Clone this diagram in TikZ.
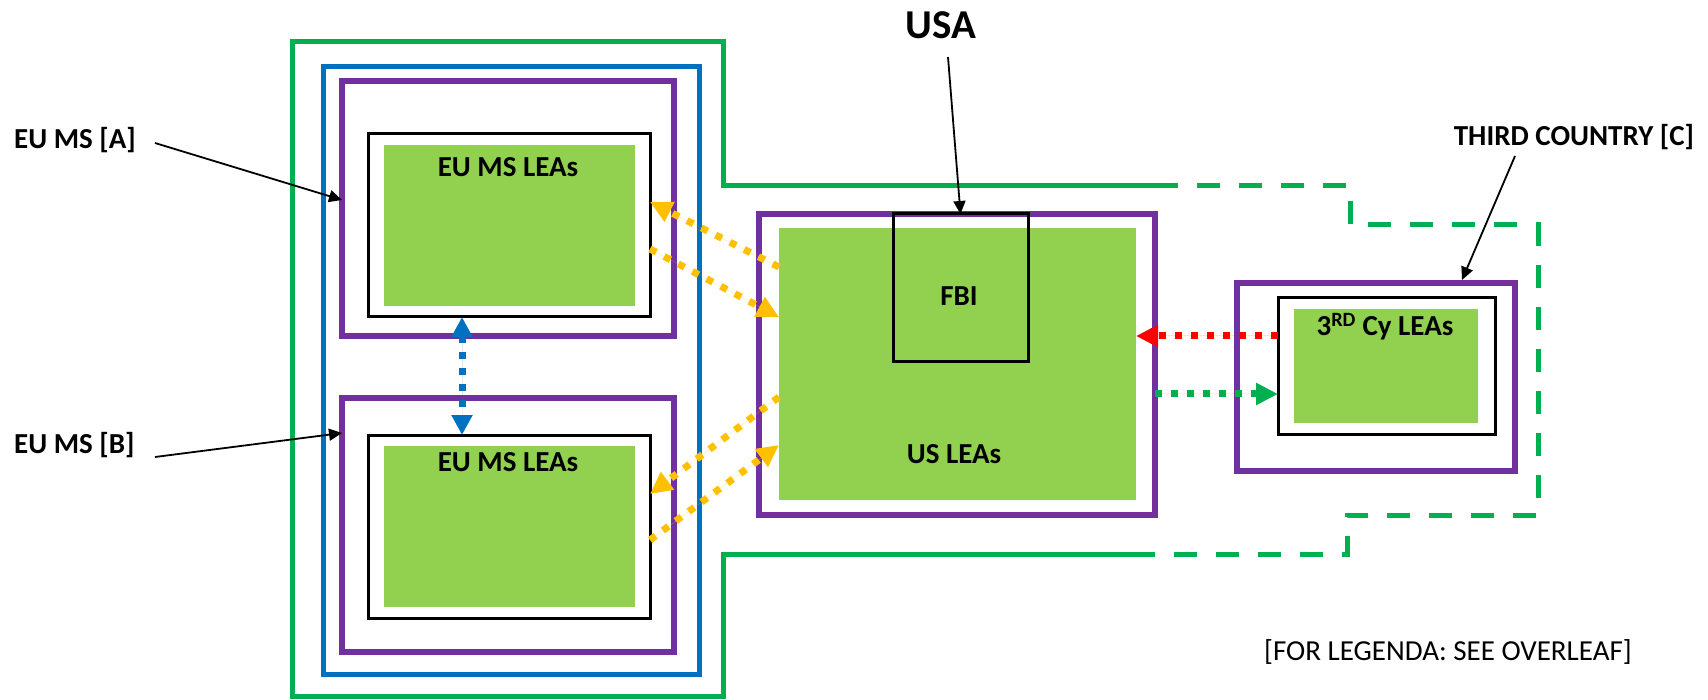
\documentclass[tikz,border=0pt]{standalone}
\usepackage{fontspec}
\setmainfont{Carlito}
\usetikzlibrary{arrows.meta}
\definecolor{cgreen}{HTML}{00B050}
\definecolor{cblue}{HTML}{0070C0}
\definecolor{cpurple}{HTML}{7030A0}
\definecolor{cfill}{HTML}{92D050}
\definecolor{corange}{HTML}{FFC000}
\definecolor{cred}{HTML}{FF0000}
\begin{document}
\begin{tikzpicture}[x=1pt,y=-1pt,
  box/.style={rectangle,inner sep=0pt,outer sep=0pt},
  purplebox/.style={box,draw=cpurple,line width=6pt},
  blackbox/.style={box,draw=black,line width=3pt},
  fillbox/.style={box,fill=cfill},
  lbl/.style={inner sep=0pt,font=\fontsize{29}{34}\selectfont\bfseries},
  pointer/.style={draw=black,line width=1.8pt,-{Triangle[length=13pt,width=12pt]}},
  dotarrow/.style={line width=7pt,dash pattern=on 7pt off 9pt,-{Triangle[length=22pt,width=21pt]}},
  greenline/.style={draw=cgreen,line width=5pt},
]
\useasboundingbox (0,0) rectangle (1708,700);
\fill[white] (0,0) rectangle (1708,700);
% green outline
\draw[greenline] (1155,186) -- (723,186) -- (723,42) -- (292,42) -- (292,696) -- (723,696) -- (723,554) -- (1155,554);
\draw[greenline,dash pattern=on 23pt off 19pt] (1155,186) -- (1350,186) -- (1350,225) -- (1538,225) -- (1538,515) -- (1347,515) -- (1347,554) -- (1155,554);
% blue box
\node[box,draw=cblue,line width=5pt,minimum width=376pt,minimum height=607pt] (blue) at (511,370.5) {};
% EU MS A
\node[purplebox,minimum width=332pt,minimum height=255pt] (pA) at (508,208.5) {};
\node[blackbox,minimum width=282pt,minimum height=183pt] (bA) at (509,225.5) {};
\node[fillbox,minimum width=251pt,minimum height=161pt] (fA) at (509.5,225.5) {};
\node[lbl] (tA) at (508,167) {EU MS LEAs};
% EU MS B
\node[purplebox,minimum width=332pt,minimum height=254pt] (pB) at (508,525) {};
\node[blackbox,minimum width=282pt,minimum height=183pt] (bB) at (509,526.5) {};
\node[fillbox,minimum width=251pt,minimum height=161pt] (fB) at (509.5,526.5) {};
\node[lbl] (tB) at (508,462) {EU MS LEAs};
% USA
\node[purplebox,minimum width=396pt,minimum height=301pt] (pUS) at (957,364.5) {};
\node[fillbox,minimum width=357pt,minimum height=272pt] (fUS) at (957.5,364) {};
\node[blackbox,minimum width=135pt,minimum height=148pt] (fbi) at (960.5,288) {};
\node[lbl] (tfbi) at (959,296) {FBI};
\node[lbl] (tus) at (954,454) {US LEAs};
% third country
\node[purplebox,minimum width=278pt,minimum height=188pt] (p3) at (1376,377) {};
\node[blackbox,minimum width=217pt,minimum height=136pt] (b3) at (1386.5,366) {};
\node[fillbox,minimum width=184pt,minimum height=114pt] (f3) at (1386,366) {};
\node[lbl] (t3) at (1385,327) {3\textsuperscript{RD} Cy LEAs};
% labels
\node[inner sep=0pt,font=\fontsize{41}{48}\selectfont\bfseries] (usa) at (941,25) {USA};
\node[lbl,anchor=west] (labA) at (14,140) {EU MS [A]};
\node[lbl,anchor=west] (labB) at (14,445) {EU MS [B]};
\node[lbl] (labC) at (1574,137) {THIRD COUNTRY [C]};
\node[inner sep=0pt,font=\fontsize{29}{34}\selectfont] (legend) at (1448,652) {[FOR LEGENDA: SEE OVERLEAF]};
% pointer arrows
\coordinate (aAs) at (155,143);
\coordinate (aBs) at (155,457);
\coordinate (aCs) at (1515,156);
\coordinate (aUs) at (948,57);
\draw[pointer] (aAs) -- (pA.west |- 0,200);
\draw[pointer] (aBs) -- (pB.west |- 0,433);
\draw[pointer] (aCs) -- (1462,280);
\draw[pointer] (aUs) -- (fbi.north);
% blue double arrow
\draw[dotarrow,draw=cblue,fill=cblue,{Triangle[length=20pt,width=20pt]}-{Triangle[length=20pt,width=20pt]}] (bA.south -| 462,0) -- (bB.north -| 462,0);
% orange arrows
\draw[dotarrow,draw=corange,fill=corange] (fUS.west |- 0,267) -- (bA.east |- 0,202);
\draw[dotarrow,draw=corange,fill=corange] (bA.east |- 0,249) -- (fUS.west |- 0,317);
\draw[dotarrow,draw=corange,fill=corange] (fUS.west |- 0,397) -- (bB.east |- 0,494);
\draw[dotarrow,draw=corange,fill=corange] (bB.east |- 0,540) -- (fUS.west |- 0,445);
% red and green arrows
\draw[dotarrow,draw=cred,fill=cred] (b3.west |- 0,336) -- (fUS.east |- 0,336);
\draw[dotarrow,draw=cgreen,fill=cgreen] (pUS.east |- 0,394) -- (b3.west |- 0,394);
\end{tikzpicture}
\end{document}
